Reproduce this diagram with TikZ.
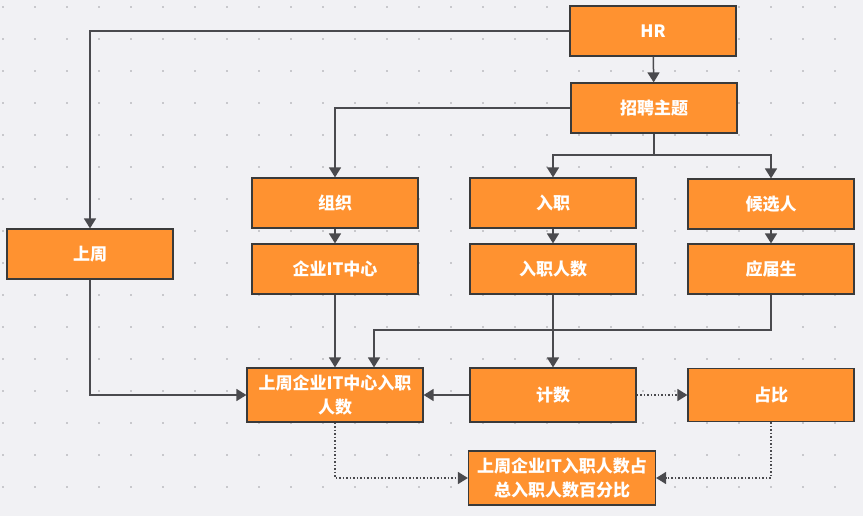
\documentclass[tikz,border=0pt]{standalone}
\usepackage{fontspec}
\setmainfont{Noto Sans CJK SC}
\usetikzlibrary{arrows.meta}
\definecolor{bgc}{HTML}{F1F1F4}
\definecolor{dotc}{HTML}{C8C8CC}
\definecolor{boxfill}{HTML}{FF9230}
\definecolor{boxline}{HTML}{3A3A3A}
\definecolor{linec}{HTML}{4A4A4E}
\tikzset{
  box/.style={draw=boxline, line width=1.2pt, fill=boxfill, text=white,
    font=\fontsize{17}{24}\selectfont\bfseries, align=center,
    minimum width=166pt, minimum height=50pt, inner sep=0pt},
  arr/.style={draw=linec, line width=1.5pt, -{Triangle[width=12pt,length=10pt]}},
  plain/.style={draw=linec, line width=1.5pt},
  dotarr/.style={draw=linec, line width=1.5pt, dash pattern=on 1.5pt off 2pt, -{Triangle[width=12pt,length=10pt]}}
}
\begin{document}
\begin{tikzpicture}[x=1pt,y=-1pt]
\useasboundingbox (0,0) rectangle (863,516);
\fill[bgc] (0,0) rectangle (863,516);
\foreach \i in {0,...,26} \foreach \j in {0,...,15}
  \fill[dotc] (1.7+32*\i,6.3+32*\j) rectangle ++(2,2);

\node[box] (hr) at (653,31) {HR};
\node[box] (zp) at (654,108) {招聘主题};
\node[box] (zz) at (335,203) {组织};
\node[box] (qy) at (335,269) {企业IT中心};
\node[box] (rz) at (553,203) {入职};
\node[box] (rzrs) at (553,269) {入职人数};
\node[box] (hx) at (771,204) {候选人};
\node[box] (yj) at (771,269) {应届生};
\node[box] (sz) at (90,254) {上周};
\node[box, minimum width=176pt, minimum height=54pt] (szq) at (335,395) {上周企业IT中心入职\\人数};
\node[box, minimum height=54pt] (js) at (553,395) {计数};
\node[box, minimum height=53pt] (zb) at (771,395) {占比};
\node[box, minimum width=187pt, minimum height=54pt] (fin) at (562,478) {上周企业IT入职人数占\\总入职人数百分比};

\coordinate (j1) at (654,155);
\coordinate (j3) at (374,330);

\draw[arr] (hr) -- (zp);
\draw[arr] (hr.west) -| (sz.north);
\draw[arr] (zp.west) -| (zz.north);
\draw[plain] (zp.south) -- (j1);
\draw[arr] (j1) -| (rz.north);
\draw[arr] (j1) -| (hx.north);
\draw[arr] (zz) -- (qy);
\draw[arr] (rz) -- (rzrs);
\draw[arr] (hx) -- (yj);
\draw[arr] (qy) -- (szq);
\draw[arr] (rzrs) -- (js);
\draw[arr] (yj.south) |- (j3) -- (j3 |- szq.north);
\draw[arr] (sz.south) |- (szq.west);
\draw[arr] (js.west) -- (szq.east);
\draw[dotarr] (js.east) -- (zb.west);
\draw[dotarr] (szq.south) |- (fin.west);
\draw[dotarr] (zb.south) |- (fin.east);
\end{tikzpicture}
\end{document}
